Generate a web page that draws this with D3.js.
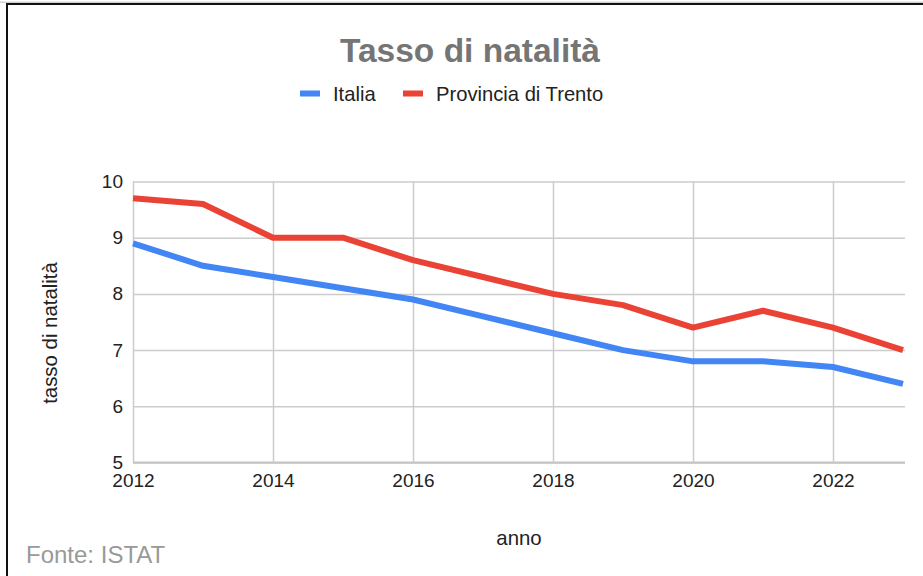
<!DOCTYPE html>
<html>
<head>
<meta charset="utf-8">
<script src="https://cdn.jsdelivr.net/npm/d3@7"></script>
<style>
  html, body { margin: 0; padding: 0; background: #fff; }
  svg { display: block; font-family: "Liberation Sans", Arial, sans-serif; }
</style>
</head>
<body>
<svg id="chart" width="923" height="576"></svg>
<script>
const years = [2012, 2013, 2014, 2015, 2016, 2017, 2018, 2019, 2020, 2021, 2022, 2023];
const italia = [8.9, 8.5, 8.3, 8.1, 7.9, 7.6, 7.3, 7.0, 6.8, 6.8, 6.7, 6.4];
const trento = [9.7, 9.6, 9.0, 9.0, 8.6, 8.3, 8.0, 7.8, 7.4, 7.7, 7.4, 7.0];
const xTicks = [2012, 2014, 2016, 2018, 2020, 2022];
const yTicks = [5, 6, 7, 8, 9, 10];
const seriesNames = ["Italia", "Provincia di Trento"];
const seriesColors = ["#4285F4", "#EA4335"];

const svg = d3.select("#chart");

// frame
svg.append("line").attr("x1", 0).attr("x2", 923).attr("y1", 2.2).attr("y2", 2.2)
  .attr("stroke", "#bbb").attr("stroke-width", 1);
svg.append("line").attr("x1", 6).attr("x2", 923).attr("y1", 4).attr("y2", 4)
  .attr("stroke", "#111").attr("stroke-width", 2);
svg.append("line").attr("x1", 7).attr("x2", 7).attr("y1", 3).attr("y2", 576)
  .attr("stroke", "#111").attr("stroke-width", 2);

const x = d3.scaleLinear().domain([2012, 2023]).range([133, 903]);
const y = d3.scaleLinear().domain([5, 10]).range([462.5, 181.5]);
const plotRight = 905;

// horizontal grid
const gy = svg.append("g")
  .attr("transform", `translate(${x(2012)},0)`)
  .call(d3.axisLeft(y).tickValues(yTicks).tickSize(-(plotRight - x(2012))).tickFormat(""));
gy.select(".domain").remove();
gy.selectAll(".tick line").attr("stroke", "#cccccc").attr("stroke-width", 1.5);

// vertical grid
const gx = svg.append("g")
  .attr("transform", `translate(0,${y(5)})`)
  .call(d3.axisBottom(x).tickValues(xTicks).tickSize(-(y(5) - y(10))).tickFormat(""));
gx.select(".domain").remove();
gx.selectAll(".tick line").attr("stroke", "#cccccc").attr("stroke-width", 1.5);

// baseline
svg.append("line").attr("x1", x(2012)).attr("x2", plotRight)
  .attr("y1", y(5)).attr("y2", y(5)).attr("stroke", "#c4c4c4").attr("stroke-width", 2);

// y tick labels
const yl = svg.append("g")
  .attr("transform", `translate(${x(2012)},0)`)
  .call(d3.axisLeft(y).tickValues(yTicks).tickSize(0).tickPadding(10).tickFormat(d3.format("d")));
yl.select(".domain").remove();
yl.selectAll("text").attr("font-size", 19).attr("fill", "#222")
  .attr("font-family", "Liberation Sans, Arial, sans-serif");

// x tick labels
const xl = svg.append("g")
  .attr("transform", `translate(0,${y(5)})`)
  .call(d3.axisBottom(x).tickValues(xTicks).tickSize(0).tickPadding(11).tickFormat(d3.format("d")));
xl.select(".domain").remove();
xl.selectAll("text").attr("font-size", 19).attr("fill", "#222")
  .attr("font-family", "Liberation Sans, Arial, sans-serif");

// lines
const line = d3.line().x((d, i) => x(years[i])).y(d => y(d));
[italia, trento].forEach((s, k) => {
  svg.append("path").datum(s).attr("d", line)
    .attr("fill", "none").attr("stroke", seriesColors[k]).attr("stroke-width", 6)
    .attr("stroke-linejoin", "round");
});

// title
svg.append("text").attr("x", 470).attr("y", 62).attr("text-anchor", "middle")
  .attr("font-size", 33.5).attr("font-weight", "bold").attr("fill", "#757575")
  .text("Tasso di natalità");

// legend
const legendX = [300, 403];
seriesNames.forEach((n, k) => {
  svg.append("rect").attr("x", legendX[k]).attr("y", 90.5).attr("width", 20).attr("height", 6)
    .attr("fill", seriesColors[k]);
  svg.append("text").attr("x", legendX[k] + 33).attr("y", 100.5).attr("font-size", 20.2)
    .attr("fill", "#222").text(n);
});

// axis titles
svg.append("text").attr("x", 519).attr("y", 545).attr("text-anchor", "middle")
  .attr("font-size", 20.4).attr("fill", "#222").text("anno");
svg.append("text").attr("transform", "translate(57,333) rotate(-90)").attr("text-anchor", "middle")
  .attr("font-size", 20.4).attr("fill", "#222").text("tasso di natalità");

// source
svg.append("text").attr("x", 26).attr("y", 563).attr("font-size", 24).attr("fill", "#999")
  .text("Fonte: ISTAT");
</script>
</body>
</html>
